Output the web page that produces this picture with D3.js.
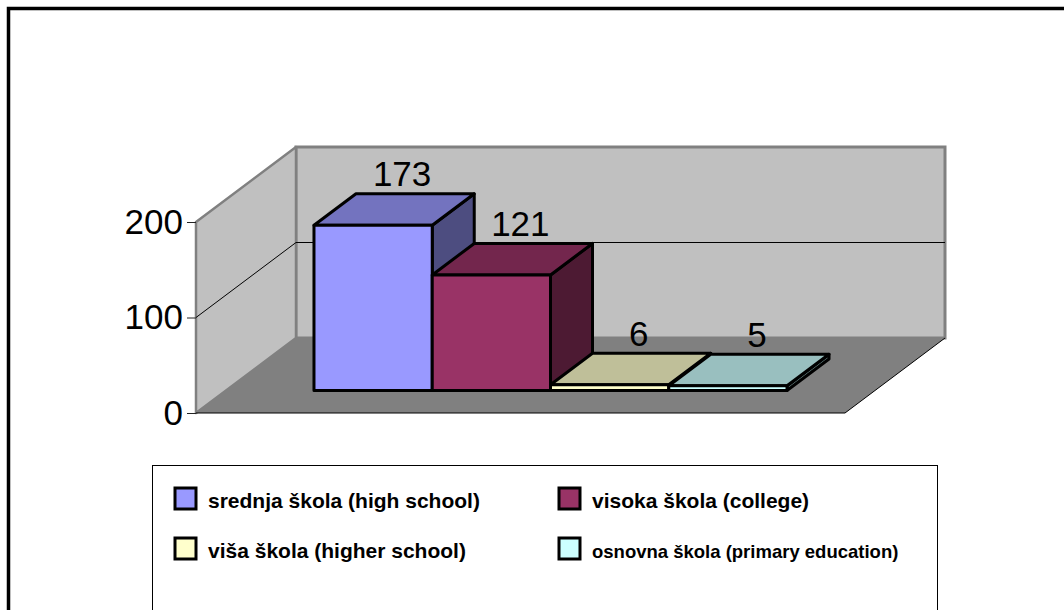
<!DOCTYPE html>
<html>
<head>
<meta charset="utf-8">
<script src="https://cdnjs.cloudflare.com/ajax/libs/d3/7.8.5/d3.min.js"></script>
<style>
  body { margin: 0; background: #fff; }
  svg { display: block; }
</style>
</head>
<body>
<script>
var series = ["srednja škola (high school)", "visoka škola (college)", "viša škola (higher school)", "osnovna škola (primary education)"];
var values = [173, 121, 6, 5];
var yTicks = [0, 100, 200];
var colors = ["#9999ff", "#993366", "#ffffcc", "#ccffff"];

var w = 1064;
var h = 610;
var left = 196, right = 845, bottom = 413;
var depthX = 100, depthY = -75;
var barFront = 0.3, barDepth = 0.42;
var font = "'Liberation Sans', Arial, sans-serif";

var svg = d3.select("body")
            .append("svg")
            .attr("width", w)
            .attr("height", h);

var yScale = d3.scaleLinear()
               .domain([0, 200])
               .range([bottom, 222]);

var xScale = d3.scaleBand()
               .domain(series)
               .range([left + depthX * barFront, right + depthX * barFront])
               .paddingInner(0)
               .paddingOuter(0.744);

var poly = d3.line();
var y0 = yScale(0), yTop = yScale(200);

function shade(c, k){
  var r = d3.rgb(c);
  return d3.rgb(r.r * k, r.g * k, r.b * k);
}

// floor, back wall, side wall
svg.append("path")
   .attr("d", poly([[left, y0], [right, y0], [right + depthX, y0 + depthY], [left + depthX, y0 + depthY]]) + "Z")
   .attr("fill", "#808080");

svg.append("path")
   .attr("d", poly([[left + depthX, yTop + depthY], [right + depthX, yTop + depthY], [right + depthX, y0 + depthY], [left + depthX, y0 + depthY]]) + "Z")
   .attr("fill", "#c0c0c0")
   .attr("stroke", "#808080")
   .attr("stroke-width", 3);

svg.append("path")
   .attr("d", poly([[left, y0], [left, yTop], [left + depthX, yTop + depthY], [left + depthX, y0 + depthY]]) + "Z")
   .attr("fill", "#c0c0c0")
   .attr("stroke", "#808080")
   .attr("stroke-width", 2.5)
   .attr("stroke-linejoin", "round");

svg.append("path")
   .attr("d", poly([[left, y0], [right, y0], [right + depthX, y0 + depthY]]))
   .attr("fill", "none")
   .attr("stroke", "#000")
   .attr("stroke-width", 1);

// gridlines
var grid = yTicks.filter(function(t){ return t > 0 && t < 200; });
svg.selectAll("path.grid")
   .data(grid)
   .enter()
   .append("path")
   .attr("class", "grid")
   .attr("d", function(t){
     return poly([[left, yScale(t)], [left + depthX, yScale(t) + depthY], [right + depthX, yScale(t) + depthY]]);
   })
   .attr("fill", "none")
   .attr("stroke", "#000")
   .attr("stroke-width", 1);

// axis
var axis = svg.append("g")
              .attr("transform", "translate(" + left + ",0)")
              .call(d3.axisLeft(yScale)
                      .tickValues(yTicks)
                      .tickSize(9)
                      .tickPadding(4));
axis.select(".domain").remove();
axis.selectAll("line").attr("stroke", "#222");
axis.selectAll("text")
    .attr("font-family", font)
    .attr("font-size", "35px")
    .attr("fill", "#000");

// bars
var bdx = depthX * barDepth, bdy = depthY * barDepth;
var off = depthY * barFront;

var bars = svg.selectAll("g.bar")
              .data(values)
              .enter()
              .append("g")
              .attr("class", "bar")
              .attr("stroke", "#000")
              .attr("stroke-width", 3)
              .attr("stroke-linejoin", "round");

bars.append("path")
    .attr("d", function(d, i){
      var x = xScale(series[i]) + xScale.bandwidth(), yt = yScale(d) + off, yb = y0 + off;
      return poly([[x, yt], [x + bdx, yt + bdy], [x + bdx, yb + bdy], [x, yb]]) + "Z";
    })
    .attr("fill", function(d, i){ return shade(colors[i], 0.5); });

bars.append("path")
    .attr("d", function(d, i){
      var x = xScale(series[i]), bw = xScale.bandwidth(), yt = yScale(d) + off;
      return poly([[x, yt], [x + bdx, yt + bdy], [x + bw + bdx, yt + bdy], [x + bw, yt]]) + "Z";
    })
    .attr("fill", function(d, i){ return shade(colors[i], 0.75); });

bars.append("rect")
    .attr("x", function(d, i){ return xScale(series[i]); })
    .attr("y", function(d){ return yScale(d) + off; })
    .attr("width", xScale.bandwidth())
    .attr("height", function(d){ return y0 - yScale(d); })
    .attr("fill", function(d, i){ return colors[i]; });

svg.selectAll("text.value")
   .data(values)
   .enter()
   .append("text")
   .attr("class", "value")
   .text(function(d){ return d; })
   .attr("x", function(d, i){ return xScale(series[i]) + xScale.bandwidth() / 2 + 29; })
   .attr("y", function(d){ return yScale(d) + off - 39; })
   .attr("font-family", font)
   .attr("font-size", "35px")
   .attr("fill", "#000")
   .attr("text-anchor", "middle");

// legend
svg.append("rect")
   .attr("x", 152.5)
   .attr("y", 465.5)
   .attr("width", 785)
   .attr("height", 200)
   .attr("fill", "#fff")
   .attr("stroke", "#000")
   .attr("stroke-width", 1);

var items = svg.selectAll("g.legend")
               .data(series)
               .enter()
               .append("g")
               .attr("class", "legend")
               .attr("transform", function(d, i){
                 return "translate(" + (175 + (i % 2) * 384) + "," + (488 + Math.floor(i / 2) * 50) + ")";
               });

items.append("rect")
     .attr("width", 21)
     .attr("height", 21)
     .attr("fill", function(d, i){ return colors[i]; })
     .attr("stroke", "#000")
     .attr("stroke-width", 3);

items.append("text")
     .text(function(d){ return d; })
     .attr("x", 33)
     .attr("y", 20)
     .attr("font-family", font)
     .attr("font-weight", "bold")
     .attr("font-size", function(d, i){ return i == 3 ? "18.5px" : "21px"; })
     .attr("fill", "#000");

// outer frame
svg.append("rect")
   .attr("x", 8.5)
   .attr("y", 8.5)
   .attr("width", 1200)
   .attr("height", 700)
   .attr("fill", "none")
   .attr("stroke", "#000")
   .attr("stroke-width", 3.5);
</script>
</body>
</html>
